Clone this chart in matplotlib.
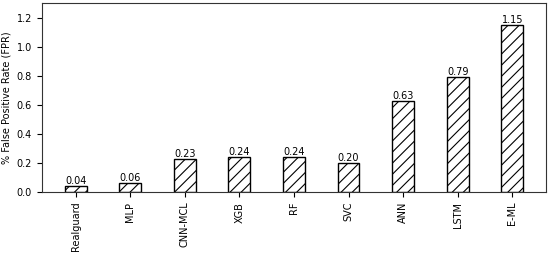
import matplotlib
matplotlib.use("Agg")
import matplotlib.pyplot as plt
import numpy as np

models = ["Realguard", "MLP", "CNN-MCL", "XGB", "RF", "SVC", "ANN", "LSTM", "E-ML"]
fpr = [0.04, 0.06, 0.23, 0.24, 0.24, 0.20, 0.63, 0.79, 1.15]

plt.rcParams["hatch.linewidth"] = 0.8

fig = plt.figure(figsize=(5.5, 2.54), dpi=100)
ax = fig.add_axes([0.076, 0.244, 0.917, 0.743])

x = np.arange(len(models))
bars = ax.bar(x, fpr, width=0.4, color="white", edgecolor="black", hatch="///", linewidth=1)

for xi, v in zip(x, fpr):
    ax.text(xi, v, "%.2f" % v, ha="center", va="bottom", fontsize=7)

ax.set_xticks(x)
ax.set_xticklabels(models, rotation=90, fontsize=7)
ax.tick_params(axis="y", labelsize=7)
ax.set_ylim(0, 1.3)
ax.set_ylabel("% False Positive Rate (FPR)", fontsize=7)

for s in ax.spines.values():
    s.set_color("#333333")

fig.savefig("out.png", dpi=100)
